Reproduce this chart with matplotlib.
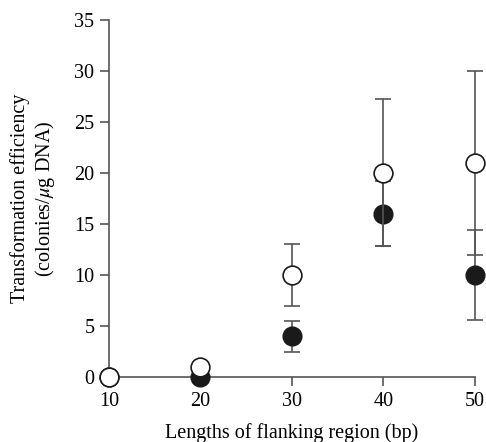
import matplotlib.pyplot as plt

plt.rcParams['font.family'] = ['Liberation Serif', 'DejaVu Serif']
plt.rcParams['mathtext.fontset'] = 'stix'

# flanking region lengths (bp)
lengths = [10, 20, 30, 40, 50]

# filled circles
filled_y = [0, 0, 4, 16, 10]
filled_err = [0, 0, 1.5, 3.2, 4.4]

# open circles
open_y = [0, 1, 10, 20, 21]
open_err = [0, 0, 3, 7.2, 9]

fig = plt.figure(figsize=(4.86, 4.42), dpi=100)
ax = fig.add_axes([0.224, 0.147, 0.753, 0.808])

gray = '#555555'
ax.errorbar(lengths, filled_y, yerr=filled_err, fmt='o', color='#1a1a1a',
            ms=13.5, mec='#1a1a1a', ecolor=gray, elinewidth=1.2, capsize=5.5,
            capthick=1.2, clip_on=False, zorder=3)
ax.errorbar(lengths, open_y, yerr=open_err, fmt='o', color='#1a1a1a',
            ms=13.5, mfc='white', mec='#1a1a1a', mew=1.2, ecolor=gray,
            elinewidth=1.2, capsize=5.5, capthick=1.2, clip_on=False, zorder=4)

ax.set_xlim(10, 50)
ax.set_ylim(0, 35)
ax.set_xticks(lengths)
ax.set_yticks(range(0, 36, 5))

for s in ['top', 'right']:
    ax.spines[s].set_visible(False)
for s in ['left', 'bottom']:
    ax.spines[s].set_color(gray)
    ax.spines[s].set_linewidth(1.2)
ax.tick_params(direction='out', length=6.5, width=1.2, color=gray,
               labelsize=14.5, pad=4)

ax.set_xlabel('Lengths of flanking region (bp)', fontsize=14.5, labelpad=9)
ax.set_ylabel('Transformation efficiency\n(colonies/$\\mu$g DNA)', fontsize=14.5,
              labelpad=12, linespacing=1.2)

fig.savefig('out.png', dpi=100)
